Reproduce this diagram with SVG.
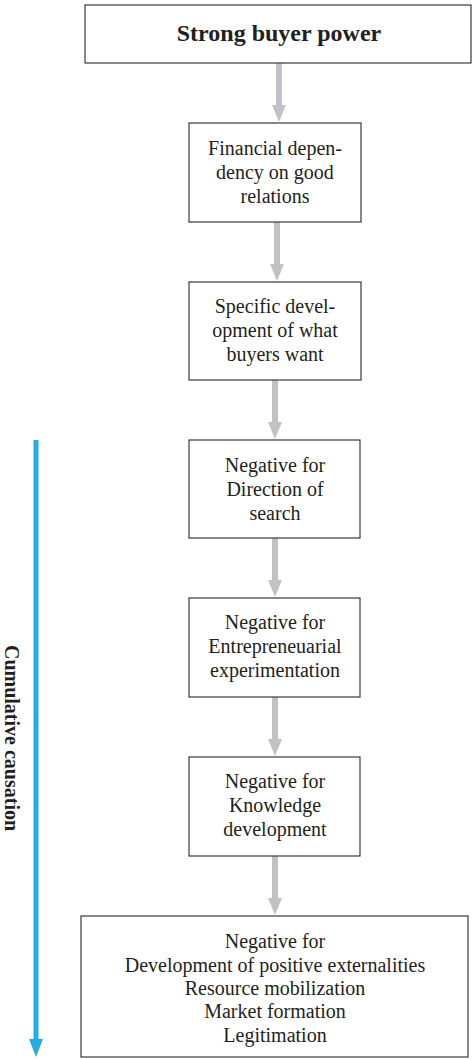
<svg xmlns="http://www.w3.org/2000/svg" width="473" height="1059" viewBox="0 0 473 1059">
  <style>
    .box { fill: #ffffff; stroke: #3a3a3a; stroke-width: 1.2; }
    .txt { font-family: "Liberation Serif", "Times New Roman", serif; font-size: 20px; fill: #231f20; text-anchor: middle; }
    .bold { font-weight: bold; }
    .shaft { stroke: #c2c2c6; stroke-width: 6; fill: none; }
    .head { fill: #c2c2c6; }
    .cum { stroke: #22ade0; stroke-width: 5; fill: none; }
    .cumhead { fill: #22ade0; }
  </style>

  <rect width="473" height="1059" fill="#ffffff"/>

  <!-- connectors between the stacked boxes -->
  <g id="connectors">
    <line class="shaft" x1="279" y1="63" x2="279" y2="106"/>
    <polygon class="head" points="272,105 286,105 279,122"/>

    <line class="shaft" x1="277" y1="222" x2="277" y2="265"/>
    <polygon class="head" points="270,264 284,264 277,281"/>

    <line class="shaft" x1="275" y1="380" x2="275" y2="423"/>
    <polygon class="head" points="268,422 282,422 275,439"/>

    <line class="shaft" x1="275" y1="538" x2="275" y2="581"/>
    <polygon class="head" points="268,580 282,580 275,597"/>

    <line class="shaft" x1="275" y1="697" x2="275" y2="740"/>
    <polygon class="head" points="268,739 282,739 275,756"/>

    <line class="shaft" x1="275" y1="856" x2="275" y2="899"/>
    <polygon class="head" points="268,898 282,898 275,915"/>
  </g>

  <!-- cumulative causation arrow and label -->
  <g id="cumulative">
    <line class="cum" x1="36" y1="440" x2="36" y2="1041"/>
    <polygon class="cumhead" points="29,1039 43,1039 36,1057"/>
    <text class="txt bold" transform="translate(5,738) rotate(90)">Cumulative causation</text>
  </g>

  <g id="n-buyer-power">
    <rect class="box" x="85" y="5" width="386" height="58"/>
    <text class="txt bold" x="279" y="41" style="font-size:24px">Strong buyer power</text>
  </g>

  <g id="n-financial">
    <rect class="box" x="189" y="123" width="172" height="99"/>
    <text class="txt" x="275" y="155">Financial depen-</text>
    <text class="txt" x="275" y="179">dency on good</text>
    <text class="txt" x="275" y="203">relations</text>
  </g>

  <g id="n-specific">
    <rect class="box" x="189" y="282" width="172" height="98"/>
    <text class="txt" x="275" y="313">Specific devel-</text>
    <text class="txt" x="275" y="337">opment of what</text>
    <text class="txt" x="275" y="361">buyers want</text>
  </g>

  <g id="n-direction">
    <rect class="box" x="189" y="440" width="171" height="98"/>
    <text class="txt" x="275" y="472">Negative for</text>
    <text class="txt" x="275" y="496">Direction of</text>
    <text class="txt" x="275" y="520">search</text>
  </g>

  <g id="n-experimentation">
    <rect class="box" x="189" y="598" width="171" height="99"/>
    <text class="txt" x="275" y="629">Negative for</text>
    <text class="txt" x="275" y="653">Entrepreneuarial</text>
    <text class="txt" x="275" y="677">experimentation</text>
  </g>

  <g id="n-knowledge">
    <rect class="box" x="189" y="757" width="171" height="99"/>
    <text class="txt" x="275" y="788">Negative for</text>
    <text class="txt" x="275" y="812">Knowledge</text>
    <text class="txt" x="275" y="836">development</text>
  </g>

  <g id="n-other-functions">
    <rect class="box" x="81" y="916" width="387" height="141"/>
    <text class="txt" x="275" y="948">Negative for</text>
    <text class="txt" x="275" y="972">Development of positive externalities</text>
    <text class="txt" x="275" y="995">Resource mobilization</text>
    <text class="txt" x="275" y="1018">Market formation</text>
    <text class="txt" x="275" y="1042">Legitimation</text>
  </g>
</svg>
